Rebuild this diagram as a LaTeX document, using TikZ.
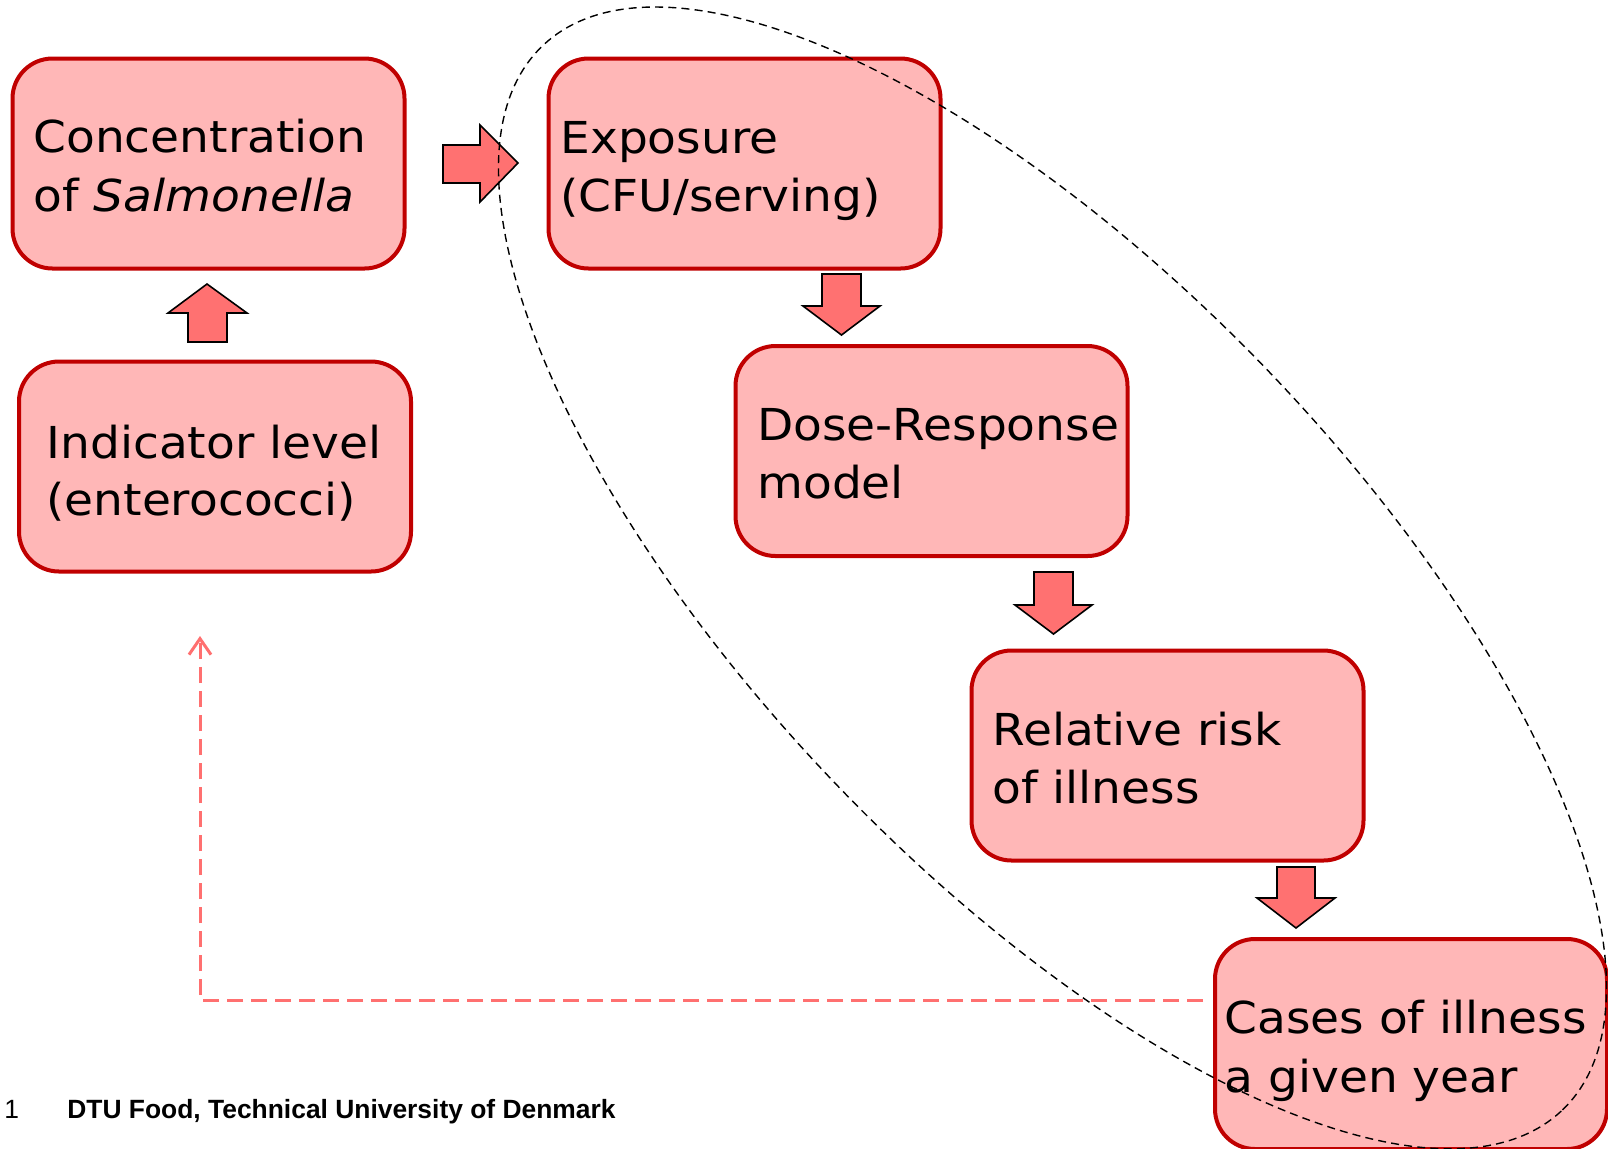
\documentclass[tikz,border=0pt]{standalone}
\usepackage{fontspec}
\setmainfont[FakeStretch=1.07]{DejaVu Sans}
\newfontfamily\footfont{Liberation Sans}
\usetikzlibrary{arrows.meta}
\definecolor{boxline}{HTML}{C00000}
\definecolor{boxfill}{HTML}{FFB7B7}
\definecolor{arrfill}{HTML}{FF7171}
\definecolor{fbline}{HTML}{FF7070}
\tikzset{
  box/.style={draw=boxline, fill=boxfill, line width=2pt, rounded corners=20pt,
    minimum width=196pt, minimum height=105pt, inner sep=0pt, outer sep=0pt},
  lbl/.style={anchor=base west, inner sep=0pt, font=\fontsize{22}{26}\selectfont},
  blockarrow/.style={draw=black, fill=arrfill, line width=0.8pt, line join=miter},
  feedback/.style={draw=fbline, line width=1.5pt, dash pattern=on 8pt off 4pt,
    -{Straight Barb[length=8pt,width=11pt,line width=1.5pt]}},
  ell/.style={draw=black, line width=0.7pt, dash pattern=on 4pt off 2.6pt},
  foot/.style={anchor=base west, inner sep=0pt, font=\footfont\fontsize{13.2}{15}\selectfont}
}
\begin{document}
\begin{tikzpicture}[x=0.5pt,y=-0.5pt]
\useasboundingbox (0,0) rectangle (1608,1148);
\fill[white] (0,0) rectangle (1608,1148);

% boxes
\node[box] (b1) at (208.5,163.5) {};
\node[box] (b2) at (215,466.5) {};
\node[box] (b3) at (744.5,163.5) {};
\node[box] (b4) at (931.5,451) {};
\node[box] (b5) at (1167.5,755.5) {};
\node[box] (b6) at (1411,1044) {};

% texts
\node[lbl] (t1a) at (33,152) {Concentration};
\node[lbl] (t1b) at (33,211) {of \textit{Salmonella}};
\node[lbl] (t2a) at (46,458) {Indicator level};
\node[lbl] (t2b) at (46,515) {(enterococci)};
\node[lbl] (t3a) at (560,153) {Exposure};
\node[lbl] (t3b) at (560,211) {(CFU/serving)};
\node[lbl] (t4a) at (757,440) {Dose-Response};
\node[lbl] (t4b) at (757,498) {model};
\node[lbl] (t5a) at (992,745) {Relative risk};
\node[lbl] (t5b) at (992,803) {of illness};
\node[lbl] (t6a) at (1224,1033) {Cases of illness};
\node[lbl] (t6b) at (1224,1092) {a given year};

% block arrows
\draw[blockarrow] (443,145) -- (480,145) -- (480,125) -- (518,163) -- (480,202) -- (480,183) -- (443,183) -- cycle;
\draw[blockarrow] (207,284) -- (247,313) -- (227,313) -- (227,342) -- (188,342) -- (188,313) -- (168,313) -- cycle;
\draw[blockarrow] (822,274) -- (861,274) -- (861,306) -- (880,306) -- (841.5,335) -- (803,306) -- (822,306) -- cycle;
\draw[blockarrow] (1034,572) -- (1073,572) -- (1073,605) -- (1092,605) -- (1053.5,634) -- (1015,605) -- (1034,605) -- cycle;
\draw[blockarrow] (1277,867) -- (1315,867) -- (1315,898) -- (1335,898) -- (1296,928) -- (1257,898) -- (1277,898) -- cycle;

% feedback dashed arrow
\coordinate (fbs) at ([xshift=-6pt]b6.west |- 0,1000);
\coordinate (fbc) at (200,1000);
\coordinate (fbe) at (200,636);
\draw[feedback] (fbs) -- (fbc) -- (fbe);

% dashed ellipse
\coordinate (ec) at (1052.5,578);
\draw[ell, rotate around={-46.2:(ec)}] (ec) ellipse [x radius=368.5pt, y radius=149.5pt];

% footer
\node[foot] (pg) at (4,1118) {1};
\node[foot] (ft) at (67,1118) {\bfseries DTU Food, Technical University of Denmark};
\end{tikzpicture}
\end{document}
